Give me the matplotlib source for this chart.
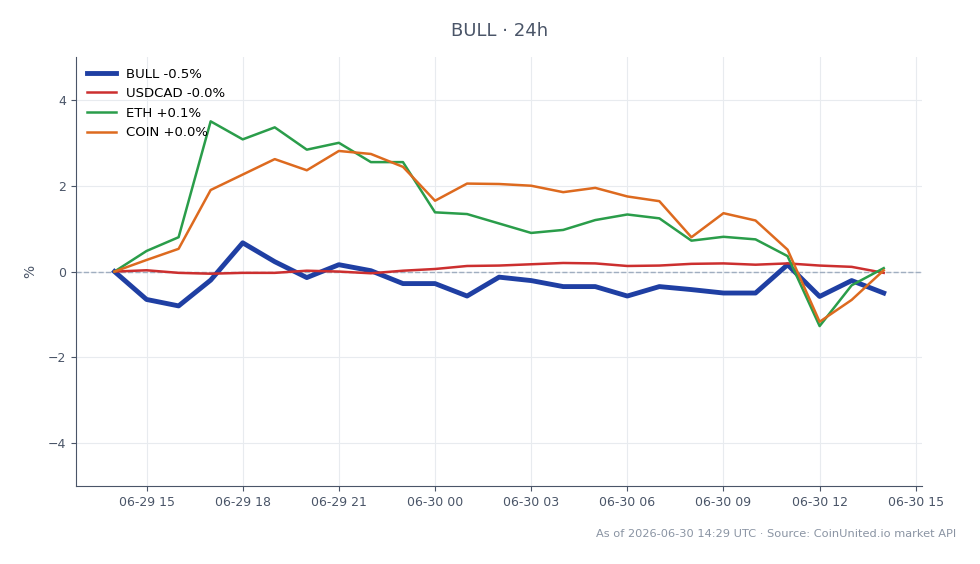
import pandas as pd
import numpy as np
import matplotlib
matplotlib.use('Agg')
import matplotlib.pyplot as plt
import matplotlib.dates as mdates

# hourly series, % change since start
times = pd.date_range('2026-06-29 14:00', '2026-06-30 14:00', freq='h')

bull = [0, -0.65, -0.8, -0.2, 0.67, 0.23, -0.14, 0.16, 0.02, -0.28, -0.28, -0.57, -0.13,
        -0.21, -0.35, -0.35, -0.57, -0.35, -0.42, -0.5, -0.5, 0.16, -0.58, -0.21, -0.5]
usdcad = [0, 0.03, -0.03, -0.05, -0.03, -0.03, 0.02, 0.0, -0.04, 0.02, 0.06, 0.13, 0.14,
          0.17, 0.2, 0.19, 0.13, 0.14, 0.18, 0.19, 0.16, 0.19, 0.14, 0.11, -0.03]
eth = [0, 0.48, 0.8, 3.5, 3.08, 3.36, 2.84, 3.0, 2.55, 2.55, 1.38, 1.34, 1.12,
       0.9, 0.97, 1.2, 1.33, 1.24, 0.72, 0.81, 0.75, 0.36, -1.27, -0.32, 0.08]
coin = [0, 0.27, 0.53, 1.9, 2.26, 2.62, 2.36, 2.81, 2.74, 2.44, 1.65, 2.05, 2.04,
        2.0, 1.85, 1.95, 1.75, 1.64, 0.8, 1.36, 1.19, 0.51, -1.17, -0.66, 0.03]

labels = ['BULL -0.5%', 'USDCAD -0.0%', 'ETH +0.1%', 'COIN +0.0%']
colors = ['#1f3fa3', '#cc2f2f', '#2a9d4a', '#dd6a1f']

txt = '#4a5568'

fig = plt.figure(figsize=(9.8, 5.64), dpi=100)
ax = fig.add_axes([0.0776, 0.138, 0.8634, 0.761])

ax.axhline(0, color='#a0aec0', lw=1, ls='--', zorder=1)
ax.plot(times, bull, color=colors[0], lw=3.5, label=labels[0], zorder=3)
ax.plot(times, usdcad, color=colors[1], lw=1.8, label=labels[1], zorder=3)
ax.plot(times, eth, color=colors[2], lw=1.8, label=labels[2], zorder=3)
ax.plot(times, coin, color=colors[3], lw=1.8, label=labels[3], zorder=3)

ax.set_ylim(-5, 5)
ax.set_yticks([-4, -2, 0, 2, 4])
ax.xaxis.set_major_locator(mdates.HourLocator(byhour=range(0, 24, 3)))
ax.xaxis.set_major_formatter(mdates.DateFormatter('%m-%d %H'))

ax.grid(True, color='#e8ebef', lw=0.8)
ax.set_axisbelow(True)
for s in ['top', 'right']:
    ax.spines[s].set_visible(False)
for s in ['left', 'bottom']:
    ax.spines[s].set_color(txt)
ax.tick_params(colors=txt, labelsize=9)
for lab in ax.get_xticklabels() + ax.get_yticklabels():
    lab.set_color(txt)

ax.set_ylabel('%', color=txt, fontsize=10, labelpad=8)
ax.set_title('BULL · 24h', color=txt, fontsize=13, pad=15)

ax.legend(loc='upper left', frameon=False, fontsize=9.5, handlelength=2.2,
          borderaxespad=0.4)

fig.text(0.976, 0.053, 'As of 2026-06-30 14:29 UTC · Source: CoinUnited.io market API',
         ha='right', va='center', fontsize=8.2, color='#8a94a3')

fig.savefig('out.png', dpi=100)
